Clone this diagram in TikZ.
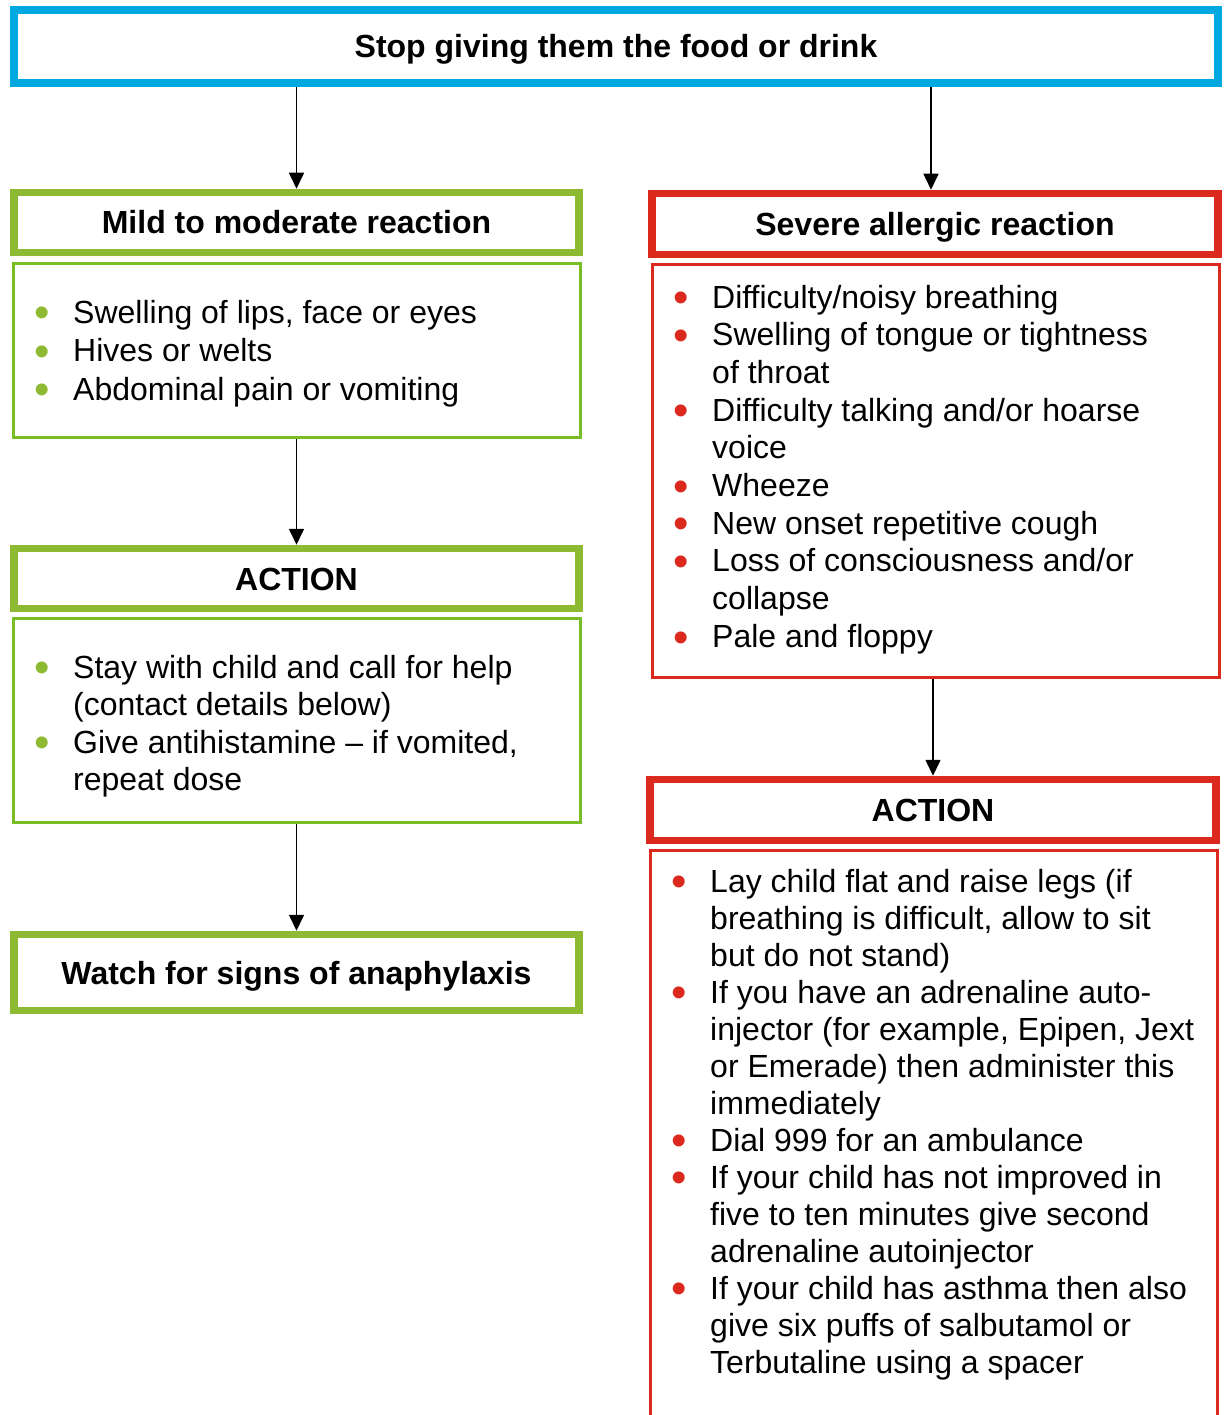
\documentclass[tikz,border=0pt]{standalone}
\usepackage{fontspec}
\setmainfont{Liberation Sans}
\usepackage{enumitem}
\usepackage{tikz}
\usetikzlibrary{arrows.meta}

\definecolor{stopblue}{RGB}{0,168,224}
\definecolor{mildgreen}{RGB}{141,185,51}
\definecolor{listgreen}{RGB}{122,190,38}
\definecolor{sevred}{RGB}{220,41,30}

\newcommand{\dotlabel}[1]{\makebox[0pt]{\color{#1}\fontsize{44}{44}\selectfont\raisebox{-4.7pt}{•}}}
\setlist[itemize]{leftmargin=31pt,labelwidth=0pt,labelsep=31pt,itemsep=0pt,parsep=0pt,topsep=0pt,partopsep=0pt}
\newenvironment{signlist}[1]{\begin{minipage}[t]{540pt}\begin{itemize}[label=\dotlabel{#1}]}{\end{itemize}\end{minipage}}

\begin{document}
\begin{tikzpicture}[x=1pt,y=-1pt]
\tikzstyle{hdr}=[draw, line width=7.5pt, inner sep=0pt, minimum width=565pt, minimum height=60pt, text height=23pt, text depth=0pt, font=\bfseries\fontsize{32}{38}\selectfont]
\tikzstyle{listbox}=[draw, line width=3pt, inner sep=0pt, minimum width=567pt]
\tikzstyle{items}=[anchor=base west, inner sep=0pt]
\tikzstyle{arr}=[-{Triangle[length=16pt,width=15pt]}, line width=1.6pt]

\useasboundingbox (0,0) rectangle (1223,1415);
\clip (0,0) rectangle (1223,1415);

% top
\node[hdr, stopblue, text=black, minimum width=1204pt, minimum height=73pt] (stop) at (616,46.5) {Stop giving them the food or drink};

% mild side
\node[hdr, mildgreen, text=black] (mild) at (296.5,222.5) {Mild to moderate reaction};
\node[listbox, listgreen, minimum height=174pt] (mildlist) at (297,350.5) {};
\node[items, font=\fontsize{32}{38.5}\selectfont] (mildtxt) at (42,323) {%
\begin{signlist}{mildgreen}
\item Swelling of lips, face or eyes
\item Hives or welts
\item Abdominal pain or vomiting
\end{signlist}};
\node[hdr, mildgreen, text=black] (lact) at (296.5,578.5) {ACTION};
\node[listbox, listgreen, minimum height=204pt] (lactlist) at (297,720.5) {};
\node[items, font=\fontsize{32}{37.5}\selectfont] (lacttxt) at (42,678) {%
\begin{signlist}{mildgreen}
\item Stay with child and call for help\\(contact details below)
\item Give antihistamine – if vomited,\\repeat dose
\end{signlist}};
\node[hdr, mildgreen, text=black, minimum height=76pt] (watch) at (296.5,972.5) {Watch for signs of anaphylaxis};

% severe side
\node[hdr, sevred, text=black, minimum width=566pt, minimum height=61pt] (sev) at (935,224) {Severe allergic reaction};
\node[listbox, sevred, minimum height=413pt] (sevlist) at (936,471) {};
\node[items, font=\fontsize{32}{37.7}\selectfont] (sevtxt) at (681,308) {%
\begin{signlist}{sevred}
\item Difficulty/noisy breathing
\item Swelling of tongue or tightness\\of throat
\item Difficulty talking and/or hoarse\\voice
\item Wheeze
\item New onset repetitive cough
\item Loss of consciousness and/or\\collapse
\item Pale and floppy
\end{signlist}};
\node[hdr, sevred, text=black, minimum width=566pt, minimum height=61pt] (ract) at (933,810) {ACTION};
\node[listbox, sevred, minimum height=600pt] (ractlist) at (934,1150) {};
\node[items, font=\fontsize{32}{37}\selectfont] (racttxt) at (679,892) {%
\begin{signlist}{sevred}
\item Lay child flat and raise legs (if\\breathing is difficult, allow to sit\\but do not stand)
\item If you have an adrenaline auto-\\injector (for example, Epipen, Jext\\or Emerade) then administer this\\immediately
\item Dial 999 for an ambulance
\item If your child has not  improved in\\five to ten minutes give second\\adrenaline autoinjector
\item If your child has asthma then also\\give six puffs of salbutamol or\\Terbutaline using a spacer
\end{signlist}};

% arrows
\draw[arr] (mild.north |- stop.south) -- (mild.north);
\draw[arr] ([xshift=-4pt]sev.north |- stop.south) -- ([xshift=-4pt]sev.north);
\draw[arr] (lact.north |- mildlist.south) -- (lact.north);
\draw[arr] (watch.north |- lactlist.south) -- (watch.north);
\draw[arr] (ract.north |- sevlist.south) -- (ract.north);
\end{tikzpicture}
\end{document}
